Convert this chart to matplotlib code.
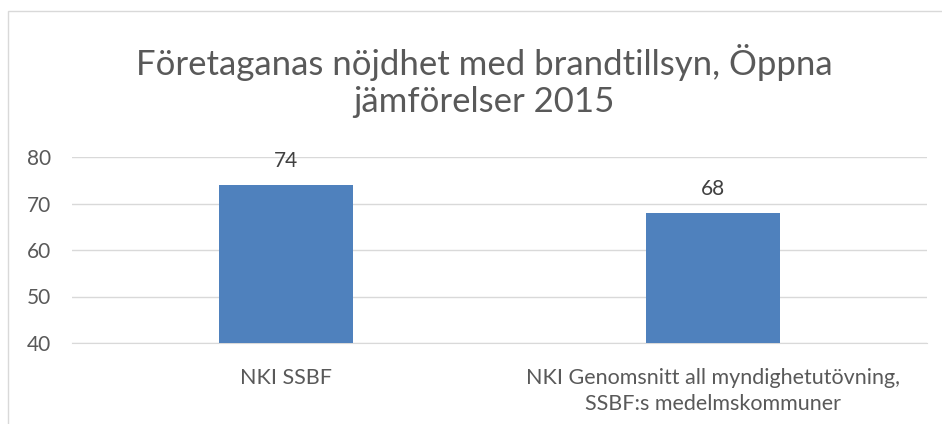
import matplotlib.pyplot as plt
from matplotlib.patches import Rectangle

categories = ["NKI SSBF", "NKI Genomsnitt all myndighetutövning,\nSSBF:s medelmskommuner"]
values = [74, 68]
yticks = [40, 50, 60, 70, 80]
title = "Företaganas nöjdhet med brandtillsyn, Öppna\njämförelser 2015"

plt.rcParams['font.family'] = ['Lato', 'DejaVu Sans']
txt = '#595959'
grid = '#d9d9d9'

fig = plt.figure(figsize=(9.42, 4.24), dpi=100)
fig.patches.append(Rectangle((8 / 942, -0.1), 1.0, 1 - 11 / 424 + 0.1, transform=fig.transFigure,
                             fill=False, edgecolor=grid, linewidth=1))
ax = fig.add_axes([72 / 942, 1 - 343 / 424, 855 / 942, 186 / 424])

x = range(len(values))
bars = ax.bar(x, values, width=0.313, color='#4f81bd', zorder=3)
for b, v in zip(bars, values):
    ax.annotate(str(v), (b.get_x() + b.get_width() / 2, v), xytext=(0, 10),
                textcoords='offset points', ha='center', va='bottom', fontsize=15, color='#404040')

ax.set_xlim(-0.5, 1.5)
ax.set_ylim(40, 80)
ax.set_yticks(yticks)
ax.set_xticks(list(x))
ax.set_xticklabels(categories, fontsize=15.5, color=txt, linespacing=1.35)
ax.tick_params(axis='y', labelsize=15, labelcolor=txt, length=0, pad=15)
ax.tick_params(axis='x', length=0, pad=18)
ax.grid(axis='y', color=grid, linewidth=1, zorder=0)
for s in ['top', 'right', 'left']:
    ax.spines[s].set_visible(False)
ax.spines['bottom'].set_color(grid)

# titeln sitter lite till höger om mitten i originalet
fig.text(484 / 942, 1 - 81 / 424, title, ha='center', va='center', fontsize=25,
         color=txt, linespacing=1.2)

fig.savefig('out.png', dpi=100)
